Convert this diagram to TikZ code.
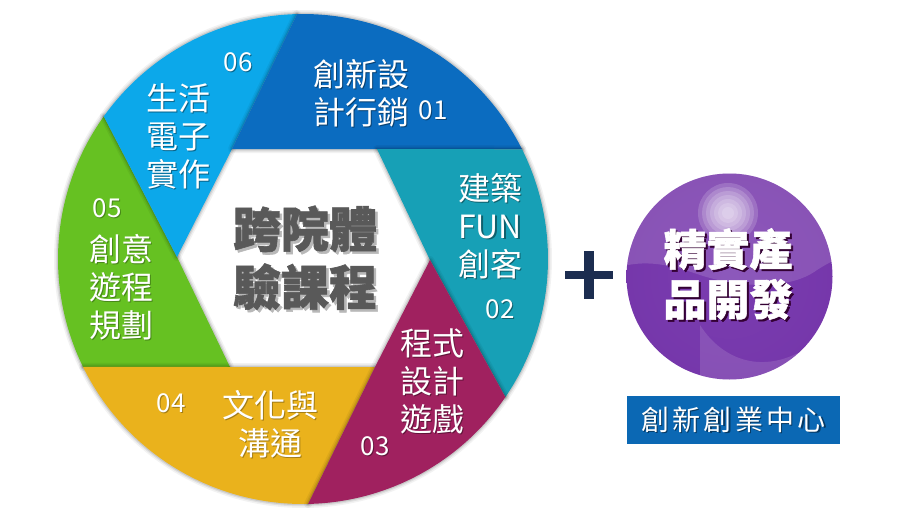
\documentclass[tikz,border=0pt]{standalone}
\usepackage{fontspec}
\setmainfont{Noto Sans CJK TC}
\newfontfamily\heavyfont[BoldFeatures={FakeBold=1.2}]{Noto Sans CJK TC}
\usetikzlibrary{calc}
\definecolor{cA}{HTML}{0B6CC0}\definecolor{cB}{HTML}{17A0B6}\definecolor{cC}{HTML}{A0215F}
\definecolor{cD}{HTML}{EAB21C}\definecolor{cE}{HTML}{66C122}\definecolor{cF}{HTML}{0CA8EA}
\definecolor{plusc}{HTML}{1C2D50}\definecolor{labelc}{HTML}{0B68B4}\definecolor{centerc}{HTML}{595959}
\definecolor{sphA}{HTML}{7A3DB0}\definecolor{sphB}{HTML}{7536AA}\definecolor{sphC}{HTML}{8147B5}\definecolor{sphD}{HTML}{9F78CC}
\pgfdeclareradialshading{sphereshade}{\pgfpoint{0bp}{0bp}}{color(0bp)=(sphA);color(30bp)=(sphB);color(42bp)=(sphC);color(50bp)=(sphD)}
\newcommand{\shad}[3]{\leavevmode\rlap{\kern#1\raisebox{-#1}{\textcolor{#2}{#3}}}#3}
\newcommand{\bsize}{\fontsize{32}{38}\selectfont}
\newcommand{\nsize}{\fontsize{26}{30}\selectfont}
\newcommand{\lbl}[2]{\shad{1.3pt}{#1}{#2}}
\tikzset{
 x=1pt,y=1pt,
 bladetext/.style={text=white,inner sep=0pt,align=center,font=\bsize},
 numtext/.style={text=white,inner sep=0pt,font=\nsize},
}
\newcommand{\blade}[2]{%
 \foreach \w/\o in {8/.05,5/.07,2.5/.10}{\draw[black,line width=\w pt,opacity=\o,line join=round,shift={(1,-2)}] #2;}
 \fill[#1] #2;}
\begin{document}
\begin{tikzpicture}
\useasboundingbox (0,0) rectangle (900,-522);
\fill[white] (0,0) rectangle (900,-522);
\coordinate (c) at (303,-259);
\coordinate (i1) at (232,-149);\coordinate (i2) at (377,-149);\coordinate (i3) at (430,-260);
\coordinate (i4) at (375,-367);\coordinate (i5) at (230,-367);\coordinate (i6) at (177,-257);
\coordinate (o1) at ([shift={(91.4:245pt)}]c);
\coordinate (o2) at ([shift={(26.6:245pt)}]c);
\coordinate (o3) at ([shift={(-34.3:245pt)}]c);
\coordinate (o4) at ([shift={(-88.8:245pt)}]c);
\coordinate (o5) at ([shift={(-153.9:245pt)}]c);
\coordinate (o6) at ([shift={(144.4:245pt)}]c);
% blades
\blade{cE}{(i5) -- (o5) arc[start angle=206.1,end angle=144.4,radius=245pt] -- (i6) -- cycle}
\blade{cF}{(i6) -- (o6) arc[start angle=144.4,end angle=91.4,radius=245pt] -- (i1) -- cycle}
\blade{cA}{(i1) -- (o1) arc[start angle=91.4,end angle=26.6,radius=245pt] -- (i2) -- cycle}
\blade{cB}{(i2) -- (o2) arc[start angle=26.6,end angle=-34.3,radius=245pt] -- (i3) -- cycle}
\blade{cD}{(i4) -- (o4) arc[start angle=-88.8,end angle=-153.9,radius=245pt] -- (i5) -- cycle}
\blade{cC}{(i3) -- (o3) arc[start angle=-34.3,end angle=-88.8,radius=245pt] -- (i4) -- cycle}
% blade labels
\node[bladetext] (t1) at (361,-94) {\lbl{cA!60!black}{創新設}\\\lbl{cA!60!black}{計行銷}};
\node[numtext] (n1) at (433,-111) {\lbl{cA!60!black}{01}};
\node[bladetext] (t2) at (490,-226.5) {\lbl{cB!60!black}{建築}\\\lbl{cB!60!black}{FUN}\\\lbl{cB!60!black}{創客}};
\node[numtext] (n2) at (500,-310) {\lbl{cB!60!black}{02}};
\node[bladetext] (t3) at (432,-382) {\lbl{cC!60!black}{程式}\\\lbl{cC!60!black}{設計}\\\lbl{cC!60!black}{遊戲}};
\node[numtext] (n3) at (375,-447) {\lbl{cC!60!black}{03}};
\node[bladetext] (t4) at (270,-425) {\lbl{cD!70!black}{文化與}\\\lbl{cD!70!black}{溝通}};
\node[numtext] (n4) at (171,-404) {\lbl{cD!70!black}{04}};
\node[bladetext] (t5) at (121,-288) {\lbl{cE!70!black}{創意}\\\lbl{cE!70!black}{遊程}\\\lbl{cE!70!black}{規劃}};
\node[numtext] (n5) at (107,-209) {\lbl{cE!70!black}{05}};
\node[bladetext] (t6) at (178,-137) {\lbl{cF!60!black}{生活}\\\lbl{cF!60!black}{電子}\\\lbl{cF!60!black}{實作}};
\node[numtext] (n6) at (238,-63) {\lbl{cF!60!black}{06}};
% centre title
\node[text=centerc,inner sep=0pt,align=center,font=\heavyfont\bfseries\fontsize{48}{58}\selectfont] (title) at (305,-259)
 {\shad{2.5pt}{black!28}{跨院體}\\\shad{2.5pt}{black!28}{驗課程}};
% plus
\fill[plusc] (565,-271) rectangle (613,-279);
\fill[plusc] (584,-251) rectangle (594,-299);
% sphere
\begin{scope}
 \clip (729.5,-276.5) circle[radius=103pt];
 \shade[shading=sphereshade] (729.5,-276.5) circle[radius=103pt];
 \fill[white,opacity=.14] (620,-267) .. controls (650,-258) and (680,-268) .. (700,-275)
   .. controls (740,-288) and (790,-290) .. (817,-270) .. controls (825,-265) and (830,-262) .. (840,-258)
   -- (840,-165) -- (620,-165) -- cycle;
 \fill[white,opacity=.13] (700,-325) .. controls (725,-365) and (780,-385) .. (840,-320) -- (840,-390) -- (700,-390) -- cycle;
 \foreach \r in {30,26,22,18,14,10,6}{\fill[white,opacity=.17] (728,-213) circle[radius=\r pt];}
\end{scope}
\node[text=white,inner sep=0pt,align=center,font=\heavyfont\bfseries\fontsize{43}{50}\selectfont] (sph) at (728,-275)
 {\shad{2pt}{black!60!violet}{精實產}\\\shad{2pt}{black!60!violet}{品開發}};
% label
\node[fill=labelc,minimum width=213pt,minimum height=48pt,inner sep=0pt,text=white,font=\fontsize{28}{32}\selectfont,anchor=center] (lab) at (733.5,-420)
 {\addfontfeatures{LetterSpace=12}\lbl{labelc!55!black}{創新創業中心}};
\end{tikzpicture}
\end{document}
